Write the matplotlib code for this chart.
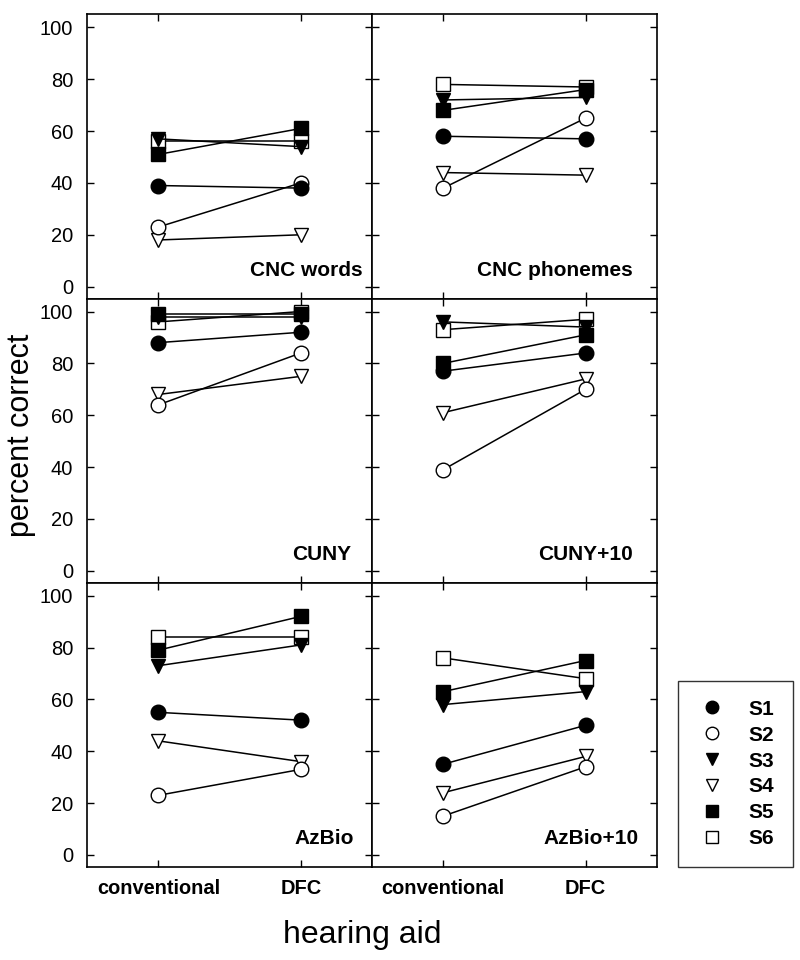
import matplotlib
matplotlib.use("Agg")
import matplotlib.pyplot as plt
from matplotlib.lines import Line2D

plt.rcParams['font.family'] = ['Liberation Sans', 'DejaVu Sans']

# valores (S1..S6), condição convencional e DFC
subjects = ['S1', 'S2', 'S3', 'S4', 'S5', 'S6']
conditions = ['conventional', 'DFC']

cnc_words_conv = [39, 23, 57, 18, 51, 56]
cnc_words_dfc = [38, 40, 54, 20, 61, 56]

cnc_phon_conv = [58, 38, 72, 44, 68, 78]
cnc_phon_dfc = [57, 65, 73, 43, 76, 77]

cuny_conv = [88, 64, 98, 68, 99, 96]
cuny_dfc = [92, 84, 98, 75, 99, 100]

cuny10_conv = [77, 39, 96, 61, 80, 93]
cuny10_dfc = [84, 70, 94, 74, 91, 97]

azbio_conv = [55, 23, 73, 44, 79, 84]
azbio_dfc = [52, 33, 81, 36, 92, 84]

azbio10_conv = [35, 15, 58, 24, 63, 76]
azbio10_dfc = [50, 34, 63, 38, 75, 68]

panels = [
    ('CNC words', cnc_words_conv, cnc_words_dfc),
    ('CNC phonemes', cnc_phon_conv, cnc_phon_dfc),
    ('CUNY', cuny_conv, cuny_dfc),
    ('CUNY+10', cuny10_conv, cuny10_dfc),
    ('AzBio', azbio_conv, azbio_dfc),
    ('AzBio+10', azbio10_conv, azbio10_dfc),
]

# estilo dos marcadores por sujeito
markers = ['o', 'o', 'v', 'v', 's', 's']
faces = ['black', 'white', 'black', 'white', 'black', 'white']
label_x = [0.968, 0.916, 0.926, 0.916, 0.937, 0.935]

fig, axes = plt.subplots(3, 2, figsize=(8, 9.6), dpi=100)
fig.subplots_adjust(left=0.109, right=0.821, top=0.985, bottom=0.097,
                    hspace=0, wspace=0)

for k, (name, conv, dfc) in enumerate(panels):
    ax = axes[k // 2][k % 2]
    for i in range(len(subjects)):
        ax.plot([0, 1], [conv[i], dfc[i]], color='black', lw=1.1,
                marker=markers[i], ms=10.5, mfc=faces[i], mec='black',
                mew=1.0, zorder=3 + (5 - i))
    ax.set_xlim(-0.5, 1.5)
    ax.set_ylim(-4.6, 105)
    ax.set_xticks([0, 1])
    ax.set_yticks(range(0, 101, 20))
    ax.tick_params(direction='in', length=5, width=1.0, top=True, right=True,
                   labelsize=14.5, pad=10)
    for sp in ax.spines.values():
        sp.set_linewidth(1.2)
    if k // 2 == 2:
        ax.set_xticklabels(conditions, fontsize=14.4, fontweight='bold')
        ax.tick_params(axis='x', pad=9)
    else:
        ax.set_xticklabels([])
    if k % 2 == 1:
        ax.set_yticklabels([])
    ax.text(label_x[k], 0.1, name, transform=ax.transAxes, ha='right',
            va='center', fontsize=15, fontweight='bold')

fig.text(0.026, 0.547, 'percent correct', rotation=90, ha='center',
         va='center', fontsize=22)
fig.text(0.453, 0.026, 'hearing aid', ha='center', va='center', fontsize=23)

handles = [Line2D([], [], ls='none', marker=markers[i], ms=9, mfc=faces[i],
                  mec='black', mew=1.0) for i in range(len(subjects))]
leg = fig.legend(handles, subjects, loc='lower left',
                 bbox_to_anchor=(0.8475, 0.097), frameon=True, fancybox=False,
                 edgecolor='black', prop={'size': 15, 'weight': 'bold'},
                 borderpad=0.9, labelspacing=0.33, handletextpad=1.0,
                 borderaxespad=0, handlelength=1.5)
leg.get_frame().set_linewidth(1.0)

fig.savefig('out.png', dpi=100)
